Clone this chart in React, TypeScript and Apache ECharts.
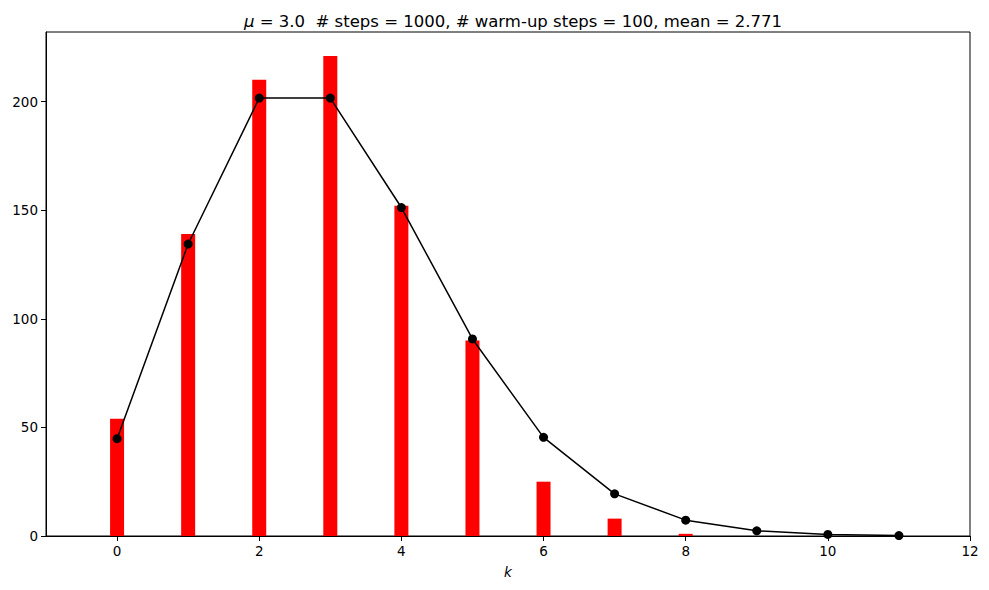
import React, { useEffect, useRef } from "react";
import * as echarts from "echarts";

const binK = [0, 1, 2, 3, 4, 5, 6, 7, 8];
const binCounts = [54, 139, 210, 221, 152, 90, 25, 8, 1];
const expK = [0, 1, 2, 3, 4, 5, 6, 7, 8, 9, 10, 11];
const expCounts = [44.8, 134.4, 201.6, 201.6, 151.2, 90.7, 45.4, 19.4, 7.3, 2.4, 0.73, 0.2];
const xTicks = [0, 2, 4, 6, 8, 10, 12];
const titleText = "{it|μ} = 3.0  # steps = 1000, # warm-up steps = 100, mean = 2.771";

export default function App() {
  const ref = useRef<HTMLDivElement>(null);
  useEffect(() => {
    if (!ref.current) return;
    const chart = echarts.init(ref.current, null, { renderer: "svg" });
    const font = "DejaVu Sans";
    chart.setOption({
      animation: false,
      backgroundColor: "#fff",
      title: {
        text: titleText,
        left: 508,
        textAlign: "center",
        top: 8,
        textStyle: {
          fontFamily: font,
          fontSize: 16.5,
          fontWeight: "normal",
          color: "#000",
          rich: { it: { fontStyle: "italic", fontFamily: font, fontSize: 16.5 } },
        },
      },
      grid: {
        left: 46,
        right: 19,
        top: 32,
        bottom: 54,
        show: true,
        borderColor: "#000",
        borderWidth: 1,
        backgroundColor: "transparent",
      },
      xAxis: {
        type: "value",
        min: -1,
        max: 12,
        name: "k",
        nameLocation: "middle",
        nameGap: 29,
        nameTextStyle: { fontFamily: font, fontSize: 13.5, fontStyle: "italic", color: "#000" },
        axisLine: { show: true, onZero: false, lineStyle: { color: "#000" } },
        axisTick: { show: true, length: 5, customValues: xTicks, lineStyle: { color: "#000" } },
        axisLabel: { customValues: xTicks, fontFamily: font, fontSize: 13.5, color: "#000", margin: 8 },
        splitLine: { show: false },
      },
      yAxis: {
        type: "value",
        min: 0,
        max: 232,
        interval: 50,
        axisLine: { show: true, onZero: false, lineStyle: { color: "#000" } },
        axisTick: { show: true, length: 5, lineStyle: { color: "#000" } },
        axisLabel: {
          fontFamily: font,
          fontSize: 13.5,
          color: "#000",
          margin: 8,
          showMaxLabel: false,
          formatter: (v: number) => (v % 50 === 0 ? String(v) : ""),
        },
        splitLine: { show: false },
      },
      series: [
        {
          type: "bar",
          data: binK.map((k, i) => [k, binCounts[i]]),
          barWidth: 14,
          itemStyle: { color: "#ff0000" },
          z: 1,
        },
        {
          type: "line",
          data: expK.map((k, i) => [k, expCounts[i]]),
          symbol: "circle",
          symbolSize: 9,
          lineStyle: { color: "#000", width: 1.5 },
          itemStyle: { color: "#000" },
          z: 2,
        },
      ],
    });
    return () => chart.dispose();
  }, []);
  return <div ref={ref} style={{ width: 989, height: 590, margin: -8 }} />;
}
